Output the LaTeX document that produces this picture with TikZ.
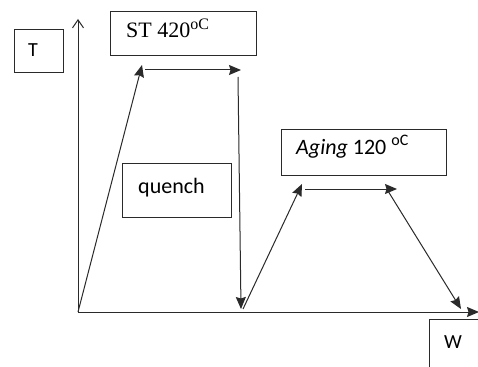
\documentclass[tikz,border=0pt]{standalone}
\usepackage{fontspec}
\setmainfont{Liberation Serif}
\newfontfamily\labelsans{Carlito}
\usetikzlibrary{arrows.meta}
\definecolor{inkline}{HTML}{2A2A2A}
\newcommand{\degsup}[2]{\raisebox{#1}{\fontsize{#2}{#2}\selectfont oC}}
\tikzset{
  labelbox/.style={draw=inkline, line width=1pt, inner sep=0pt, anchor=north west},
  curve/.style={draw=inkline, line width=1pt, -{Stealth[length=12pt,width=10pt,inset=1.5pt]}},
  axis/.style={draw=inkline, line width=1pt}
}
\begin{document}
\begin{tikzpicture}[x=1pt,y=-1pt]
\useasboundingbox (0,0) rectangle (478,366);
\fill[white] (0,0) rectangle (478,366);

% axes
\coordinate (o) at (78,312);
\coordinate (ytop) at (78,19);
\coordinate (xend) at (479,312);
\draw[axis, -{Straight Barb[length=8pt,width=11pt]}] (o) -- (ytop);
\draw[axis, -{Stealth[length=12pt,width=10pt,inset=1.5pt]}] (o) -- (xend);

% corners of the temperature profile
\coordinate (st1) at (142,65);
\coordinate (st2s) at (145,70);
\coordinate (st2) at (241,70);
\coordinate (st3) at (238,77);
\coordinate (q) at (241,309);
\coordinate (q2) at (243,309);
\coordinate (ag1) at (302,184);
\coordinate (ag2s) at (305,189);
\coordinate (ag2) at (397,189);
\coordinate (ag3) at (388,191);
\coordinate (e) at (461,309);

\draw[curve] (o) -- (st1);
\draw[curve] (st2s) -- (st2);
\draw[curve] (st3) -- (q);
\draw[curve] (q2) -- (ag1);
\draw[curve] (ag2s) -- (ag2);
\draw[curve] (ag3) -- (e);

% labels
\node[labelbox, minimum width=49pt, minimum height=43pt] (tbox) at (14,29) {};
\node[font=\labelsans\fontsize{20}{24}\selectfont, anchor=base, inner sep=0pt] (tlab) at (33,57) {T};

\node[labelbox, minimum width=146pt, minimum height=44pt] (stbox) at (110,11) {};
\node[font=\fontsize{22}{26}\selectfont, anchor=base west, inner sep=0pt] (stlab) at (126,38) {ST 420\degsup{8pt}{16}};

\node[labelbox, minimum width=109pt, minimum height=54pt] (qbox) at (122,163) {};
\node[font=\labelsans\fontsize{22}{26}\selectfont, anchor=base west, inner sep=0pt] (qlab) at (138,193) {quench};

\node[labelbox, minimum width=165pt, minimum height=46pt] (agbox) at (281,129) {};
\node[font=\labelsans\fontsize{22}{26}\selectfont, anchor=base west, inner sep=0pt] (aglab) at (296,154) {\itshape Aging\upshape{} 120 \degsup{9pt}{16}};

\node[labelbox, minimum width=60pt, minimum height=60pt] (wbox) at (429,319) {};
\node[font=\labelsans\fontsize{20}{24}\selectfont, anchor=base, inner sep=0pt] (wlab) at (453,348) {W};
\end{tikzpicture}
\end{document}
